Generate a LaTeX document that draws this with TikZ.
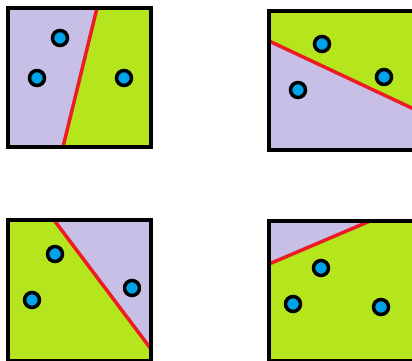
\documentclass[tikz,border=0pt]{standalone}
\usepackage{tikz}

\definecolor{lavender}{RGB}{200,191,231}
\definecolor{lime}{RGB}{181,230,29}
\definecolor{cutred}{RGB}{237,28,36}
\definecolor{dotblue}{RGB}{0,162,232}

\begin{document}
\begin{tikzpicture}[
  x=1pt,y=-1pt,
  frame/.style={draw=black,line width=4.5pt},
  cut/.style={draw=cutred,line width=3.5pt},
  point/.style={circle,draw=black,line width=3.5pt,fill=dotblue,minimum size=15pt,inner sep=0pt}
]
  \useasboundingbox (0,0) rectangle (412,361);

  % top left
  \fill[lavender] (8,8) -- (97,8) -- (63,147) -- (8,147) -- cycle;
  \fill[lime] (97,8) -- (151,8) -- (151,147) -- (63,147) -- cycle;
  \draw[cut] (97,8) -- (63,147);
  \draw[frame] (8,8) rectangle (151,147);
  \node[point] (a1) at (60,38) {};
  \node[point] (a2) at (37,78) {};
  \node[point] (a3) at (124,78) {};

  % top right
  \fill[lime] (269,11) -- (416,11) -- (416,110) -- (269,41) -- cycle;
  \fill[lavender] (269,41) -- (416,110) -- (416,150) -- (269,150) -- cycle;
  \draw[cut] (269,41) -- (416,110);
  \draw[frame] (269,11) rectangle (416,150);
  \node[point] (b1) at (322,44) {};
  \node[point] (b2) at (384,77) {};
  \node[point] (b3) at (298,90) {};

  % bottom left
  \fill[lime] (8,220) -- (54,220) -- (151,349) -- (151,361) -- (8,361) -- cycle;
  \fill[lavender] (54,220) -- (151,220) -- (151,349) -- cycle;
  \draw[cut] (54,220) -- (151,349);
  \draw[frame] (8,220) rectangle (151,361);
  \node[point] (c1) at (55,254) {};
  \node[point] (c2) at (32,300) {};
  \node[point] (c3) at (132,288) {};

  % bottom right
  \fill[lime] (269,221) rectangle (416,361);
  \fill[lavender] (269,221) -- (370,221) -- (269,264) -- cycle;
  \draw[cut] (269,264) -- (370,221);
  \draw[frame] (269,221) rectangle (416,361);
  \node[point] (d1) at (321,268) {};
  \node[point] (d2) at (293,304) {};
  \node[point] (d3) at (381,307) {};
\end{tikzpicture}
\end{document}
